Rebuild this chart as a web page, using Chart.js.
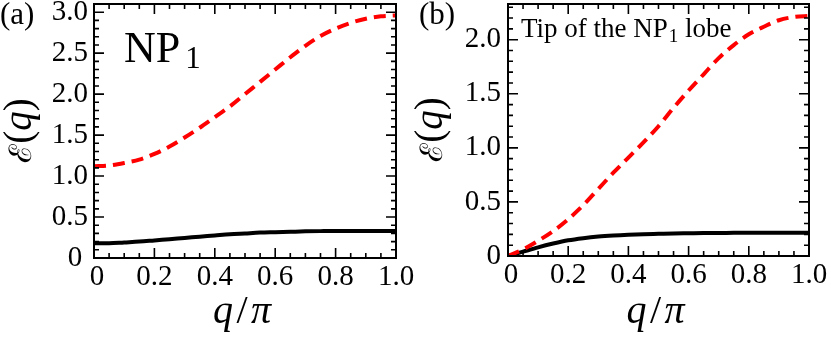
<!DOCTYPE html>
<html>
<head>
<meta charset="utf-8">
<script src="https://cdn.jsdelivr.net/npm/chart.js@4.4.1/dist/chart.umd.min.js"></script>
<style>
  body { margin: 0; background: #fff; width: 831px; height: 338px; overflow: hidden; position: relative; font-family: "Liberation Serif", "Times New Roman", serif; }
  canvas { position: absolute; top: 0; }
  .lbl { position: absolute; white-space: nowrap; color: #000; line-height: 1; }
</style>
</head>
<body>
<canvas id="chartA" width="425" height="338" style="left:0"></canvas>
<canvas id="chartB" width="420" height="338" style="left:411px"></canvas>

<div class="lbl" style="left:0;top:-2px;font-size:31px">(a)</div>
<div class="lbl" style="left:419px;top:-2px;font-size:31px">(b)</div>
<div class="lbl" style="left:124px;top:26px;font-size:44px">NP<span style="font-size:31px;position:relative;top:6px;margin-left:5px">1</span></div>
<div class="lbl" style="left:521px;top:15px;font-size:27px">Tip of the NP<span style="font-size:19px;position:relative;top:5px;margin-left:1px">1</span> lobe</div>

<script>
// q / pi sampling points (shared by every curve)
const qValues = [0, 0.05, 0.1, 0.15, 0.2, 0.25, 0.3, 0.35, 0.4, 0.45, 0.5,
                 0.55, 0.6, 0.65, 0.7, 0.75, 0.8, 0.85, 0.9, 0.95, 1.0];

// panel (a) NP1
const redA = [1.12, 1.13, 1.16, 1.20, 1.27, 1.36, 1.47, 1.59, 1.72, 1.85, 2.00,
              2.15, 2.30, 2.45, 2.59, 2.71, 2.80, 2.87, 2.92, 2.95, 2.96];
const blackA = [0.18, 0.18, 0.19, 0.20, 0.215, 0.23, 0.245, 0.26, 0.275, 0.29, 0.30,
                0.31, 0.315, 0.32, 0.325, 0.328, 0.33, 0.33, 0.33, 0.33, 0.33];

// panel (b) tip of the NP1 lobe
const redB = [0.00, 0.06, 0.14, 0.23, 0.34, 0.47, 0.62, 0.77, 0.91, 1.05, 1.20,
              1.37, 1.53, 1.68, 1.83, 1.95, 2.05, 2.12, 2.18, 2.21, 2.22];
const blackB = [0.00, 0.04, 0.08, 0.115, 0.145, 0.165, 0.18, 0.19, 0.197, 0.202, 0.205,
                0.208, 0.21, 0.212, 0.213, 0.214, 0.215, 0.215, 0.215, 0.215, 0.215];

// tick labels
const xTicks = [0, 0.2, 0.4, 0.6, 0.8, 1.0];
const yTicksA = [0, 0.5, 1.0, 1.5, 2.0, 2.5, 3.0];
const yTicksB = [0, 0.5, 1.0, 1.5, 2.0];

const serif = '"Liberation Serif", "Times New Roman", serif';

// axis titles, drawn piece by piece so that only the variables are italic
// [text, style, size]
const yTitleParts = [['ℰ', '', 31], ['(', '', 39], ['q', 'italic ', 39], [')', '', 39]];
const xTitleParts = [['q', 'italic ', 40], ['\u200A/\u200A', '', 40], ['π', 'italic ', 40]];

// draws the pieces so that their visible ink is centred on the origin
function drawParts(ctx, parts) {
    const m = parts.map(([t, st, sz]) => { ctx.font = `${st}${sz}px ${serif}`; return ctx.measureText(t); });
    const starts = [];
    let pos = 0;
    m.forEach(mm => { starts.push(pos); pos += mm.width; });
    const last = m.length - 1;
    const inkL = starts[0] - m[0].actualBoundingBoxLeft;
    const inkR = starts[last] + m[last].actualBoundingBoxRight;
    const off = -(inkL + inkR) / 2;
    parts.forEach(([t, st, sz], i) => {
        ctx.font = `${st}${sz}px ${serif}`;
        ctx.fillText(t, starts[i] + off, 0);
    });
}

// frame with inward ticks on all four sides, plus axis titles
const framePlugin = {
    id: 'frame',
    afterDraw(chart, args, opts) {
        const { ctx, chartArea: a, scales: { x, y } } = chart;
        ctx.save();
        ctx.strokeStyle = '#000';
        ctx.lineWidth = 1.6;
        ctx.beginPath();
        for (let i = 0; i <= 20; i++) {
            const px = x.getPixelForValue(i * 0.05);
            const len = i % 4 === 0 ? 10 : 5;
            ctx.moveTo(px, a.bottom); ctx.lineTo(px, a.bottom - len);
            ctx.moveTo(px, a.top); ctx.lineTo(px, a.top + len);
        }
        for (let i = 0; i * 0.1 <= y.max + 1e-9; i++) {
            const py = y.getPixelForValue(i * 0.1);
            const len = i % 5 === 0 ? 10 : 5;
            ctx.moveTo(a.left, py); ctx.lineTo(a.left + len, py);
            ctx.moveTo(a.right, py); ctx.lineTo(a.right - len, py);
        }
        ctx.stroke();
        ctx.lineWidth = 2;
        ctx.strokeRect(a.left, a.top, a.right - a.left, a.bottom - a.top);

        // titles
        ctx.fillStyle = '#000';
        ctx.textAlign = 'left';
        ctx.textBaseline = 'alphabetic';
        ctx.save();
        ctx.translate((a.left + a.right) / 2 - 2, opts.xTitleBase);
        drawParts(ctx, xTitleParts);
        ctx.restore();
        ctx.save();
        ctx.translate(opts.yTitleBase, (a.top + a.bottom) / 2);
        ctx.rotate(-Math.PI / 2);
        drawParts(ctx, yTitleParts);
        ctx.restore();
        ctx.restore();
    }
};

function makePanel(id, red, black, yMax, yTicks, axisW, axisH, padRight, yPad, zeroY) {
    return new Chart(document.getElementById(id), {
        type: 'line',
        data: {
            datasets: [
                {
                    data: qValues.map((q, i) => ({ x: q, y: red[i] })),
                    borderColor: '#ff0000',
                    borderWidth: 4,
                    borderDash: [12, 7],
                    pointRadius: 0,
                    cubicInterpolationMode: 'monotone',
                    fill: false
                },
                {
                    data: qValues.map((q, i) => ({ x: q, y: black[i] })),
                    borderColor: '#000000',
                    borderWidth: 4,
                    pointRadius: 0,
                    cubicInterpolationMode: 'monotone',
                    fill: false
                }
            ]
        },
        options: {
            responsive: false,
            animation: false,
            events: [],
            layout: { padding: { top: 4, right: padRight, bottom: 0, left: 0 } },
            plugins: {
                legend: { display: false },
                tooltip: { enabled: false },
                frame: { xTitleBase: 323, yTitleBase: 31 }
            },
            scales: {
                x: {
                    type: 'linear',
                    min: 0,
                    max: 1,
                    grid: { display: false, drawTicks: false },
                    border: { display: false },
                    afterBuildTicks: s => { s.ticks = xTicks.map(v => ({ value: v })); },
                    afterFit: s => { s.height = axisH; s.paddingLeft = 0; s.paddingRight = 0; },
                    ticks: {
                        padding: 2,
                        autoSkip: false,
                        maxRotation: 0,
                        color: '#000',
                        font: { family: serif, size: 29 },
                        callback: v => (v === 0 ? '\u20090' : v.toFixed(1))
                    }
                },
                y: {
                    type: 'linear',
                    min: 0,
                    max: yMax,
                    grid: { display: false, drawTicks: false },
                    border: { display: false },
                    afterBuildTicks: s => { s.ticks = yTicks.map(v => ({ value: v })); },
                    afterFit: s => { s.width = axisW; s.paddingTop = 0; s.paddingBottom = 0; },
                    ticks: {
                        padding: yPad,
                        autoSkip: false,
                        color: '#000',
                        font: { family: serif, size: 29 },
                        callback: v => (v === 0 ? zeroY : v.toFixed(1))
                    }
                }
            }
        },
        plugins: [framePlugin]
    });
}

makePanel('chartA', redA, blackA, 3.1, yTicksA, 94, 80, 29, 6, '0\u2009');
makePanel('chartB', redB, blackB, 2.33, yTicksB, 97, 82, 22, 7, '0');
</script>
</body>
</html>
